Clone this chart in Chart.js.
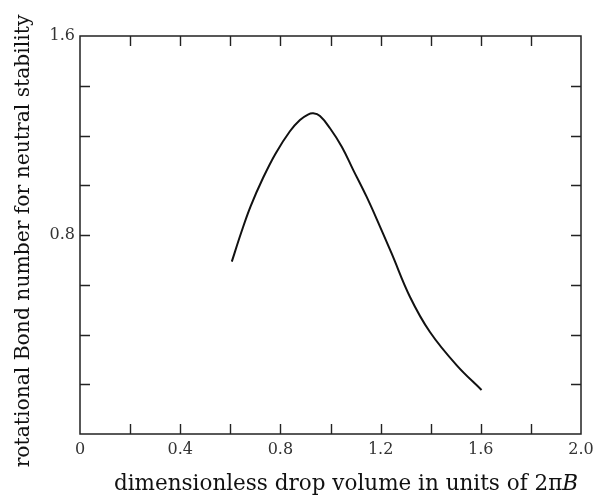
<!DOCTYPE html>
<html>
<head>
<meta charset="utf-8">
<script src="https://cdn.jsdelivr.net/npm/chart.js@4.4.1/dist/chart.umd.min.js"></script>
<style>
  html, body { margin: 0; padding: 0; background: #ffffff; }
  #wrap { width: 596px; height: 495px; position: relative; }
</style>
</head>
<body>
<div id="wrap"><canvas id="c" width="596" height="495"></canvas></div>
<script>
// Data
const dropVolume = [0.606, 0.643, 0.681, 0.731, 0.781, 0.838, 0.878, 0.910, 0.931, 0.958, 0.998, 1.045, 1.091, 1.144, 1.198, 1.244, 1.317, 1.397, 1.504, 1.603];
const bondNumber = [0.693, 0.808, 0.915, 1.030, 1.128, 1.217, 1.262, 1.284, 1.289, 1.278, 1.229, 1.155, 1.061, 0.954, 0.833, 0.726, 0.552, 0.410, 0.276, 0.177];
const xTickLabels = ['0', '0.4', '0.8', '1.2', '1.6', '2.0'];
const yTickLabels = ['0.8', '1.6'];
const xTitle = 'dimensionless drop volume in units of 2\u03C0';
const xTitleItalic = 'B';
const yTitle = 'rotational Bond number for neutral stability';

const points = dropVolume.map((v, i) => ({ x: v, y: bondNumber[i] }));
const SERIF = '"DejaVu Serif", "Liberation Serif", serif';

const framePlugin = {
  id: 'frame',
  afterDraw(chart) {
    const ctx = chart.ctx;
    const a = chart.chartArea;
    const xs = chart.scales.x, ys = chart.scales.y;
    ctx.save();
    ctx.strokeStyle = '#222';
    ctx.lineWidth = 1.5;
    ctx.strokeRect(a.left, a.top, a.right - a.left, a.bottom - a.top);
    ctx.lineWidth = 1.4;
    const tl = 10;
    ctx.beginPath();
    xs.ticks.forEach(t => {
      if (t.value <= xs.min || t.value >= xs.max) return;
      const px = Math.round(xs.getPixelForValue(t.value)) + 0.5;
      ctx.moveTo(px, a.bottom); ctx.lineTo(px, a.bottom - tl);
      ctx.moveTo(px, a.top); ctx.lineTo(px, a.top + tl);
    });
    ys.ticks.forEach(t => {
      if (t.value <= ys.min || t.value >= ys.max) return;
      const py = Math.round(ys.getPixelForValue(t.value)) + 0.5;
      ctx.moveTo(a.left, py); ctx.lineTo(a.left + tl, py);
      ctx.moveTo(a.right, py); ctx.lineTo(a.right - tl, py);
    });
    ctx.stroke();

    // axis titles
    ctx.fillStyle = '#111';
    ctx.textBaseline = 'alphabetic';
    const fx = '21.5px ' + SERIF;
    const fxi = 'italic 21.5px ' + SERIF;
    ctx.font = fx;
    const w1 = ctx.measureText(xTitle).width;
    ctx.font = fxi;
    const w2 = ctx.measureText(xTitleItalic).width;
    const cx = 346;
    const x0 = cx - (w1 + w2) / 2;
    ctx.font = fx;
    ctx.textAlign = 'left';
    ctx.fillText(xTitle, x0, 490);
    ctx.font = fxi;
    ctx.fillText(xTitleItalic, x0 + w1, 490);

    ctx.save();
    ctx.translate(29, 241);
    ctx.rotate(-Math.PI / 2);
    ctx.font = '20.3px ' + SERIF;
    ctx.textAlign = 'center';
    ctx.fillText(yTitle, 0, 0);
    ctx.restore();
    ctx.restore();
  }
};

new Chart(document.getElementById('c'), {
  type: 'scatter',
  data: {
    datasets: [{
      data: points,
      showLine: true,
      borderColor: '#111',
      borderWidth: 2,
      pointRadius: 0,
      tension: 0.4,
      fill: false
    }]
  },
  options: {
    responsive: false,
    animation: false,
    devicePixelRatio: 1,
    layout: { padding: { top: 36, right: 15, left: 0, bottom: 0 } },
    plugins: { legend: { display: false }, tooltip: { enabled: false } },
    scales: {
      x: {
        type: 'linear', min: 0, max: 2.0,
        grid: { display: false, drawTicks: false },
        border: { display: false },
        afterFit(s) { s.height = 61; s.paddingRight = 0; s.paddingLeft = 0; },
        ticks: {
          stepSize: 0.2,
          padding: 6,
          color: '#333',
          maxRotation: 0,
          autoSkip: false,
          font: { family: SERIF, size: 16 },
          callback(v) {
            const i = Math.round(v / 0.4 * 1000) / 1000;
            if (Number.isInteger(i)) return xTickLabels[i];
            return '';
          }
        }
      },
      y: {
        type: 'linear', min: 0, max: 1.6,
        grid: { display: false, drawTicks: false },
        border: { display: false },
        afterFit(s) { s.width = 80; s.paddingTop = 0; s.paddingBottom = 0; },
        ticks: {
          stepSize: 0.2,
          padding: 5,
          color: '#333',
          autoSkip: false,
          font: { family: SERIF, size: 16 },
          callback(v) {
            const i = Math.round(v / 0.8 * 1000) / 1000;
            if (Number.isInteger(i) && i >= 1) return yTickLabels[i - 1];
            return '';
          }
        }
      }
    }
  },
  plugins: [framePlugin]
});
</script>
</body>
</html>
